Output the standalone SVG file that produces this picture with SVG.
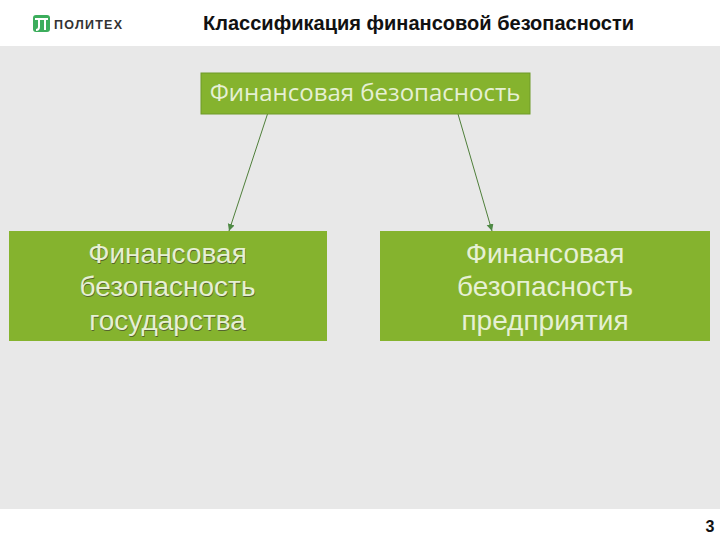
<svg xmlns="http://www.w3.org/2000/svg" width="720" height="540" viewBox="0 0 720 540">
<style>
.box{fill:#85b32e}
.t{font-family:"Liberation Sans",Arial,sans-serif;fill:#e6f0d4;text-anchor:middle;font-size:28px}
.shadow{font-family:"Liberation Sans",Arial,sans-serif;fill:#55652f;text-anchor:middle;font-size:28px}
.c{stroke:#4f7f3a;stroke-width:1;fill:none;marker-end:url(#arr)}
</style>
<defs><marker id="arr" markerWidth="8" markerHeight="8" refX="7" refY="3.500" orient="auto" markerUnits="userSpaceOnUse"><path d="M0 0L7 3.500L0 7Z" fill="#4f8a45"/></marker></defs>
<rect width="720" height="540" fill="#fff"/>
<rect y="46" width="720" height="463" fill="#e8e8e8"/>
<g id="logo">
<rect x="33" y="15" width="17" height="17" rx="3" fill="#3cad5c"/>
<path d="M35 19H48M39 19V27Q39 30 36 30M45 19V30" stroke="#fff" stroke-width="2" fill="none"/>
<text x="54" y="29" font-family="'Liberation Sans',Arial,sans-serif" font-size="12.500" font-weight="bold" fill="#333" textLength="68">ПОЛИТЕХ</text>
</g>
<text id="title" x="418.500" y="30" font-family="'Liberation Sans',Arial,sans-serif" font-size="20" font-weight="bold" fill="#111" text-anchor="middle" textLength="431">Классификация финансовой безопасности</text>
<g id="connectors">
<line class="c" x1="267.500" y1="114" x2="229" y2="231"/>
<line class="c" x1="458" y1="114" x2="492" y2="231"/>
</g>
<g id="node-top">
<rect class="box" x="201" y="73" width="329" height="41" stroke="#6f9a28" stroke-width="1"/>
<text class="t" x="365" y="101" style="font-family:'Open Sans','DejaVu Sans',sans-serif;font-size:24px">Финансовая безопасность</text>
</g>
<g id="node-left">
<rect class="box" x="9" y="231" width="318" height="110"/>
<text class="shadow" x="168" y="263.500">Финансовая</text><text class="shadow" x="168" y="296.500">безопасность</text><text class="shadow" x="168" y="330.500">государства</text>
<text class="t" x="167.500" y="263">Финансовая</text><text class="t" x="167.500" y="296">безопасность</text><text class="t" x="167.500" y="330">государства</text>
</g>
<g id="node-right">
<rect class="box" x="380" y="231" width="330" height="110"/>
<text class="t" x="545" y="263">Финансовая</text><text class="t" x="545" y="296">безопасность</text><text class="t" x="545" y="330">предприятия</text>
</g>
<text id="page" x="710" y="532" font-family="'Liberation Sans',Arial,sans-serif" font-size="16" font-weight="bold" fill="#111" text-anchor="middle">3</text>
</svg>
